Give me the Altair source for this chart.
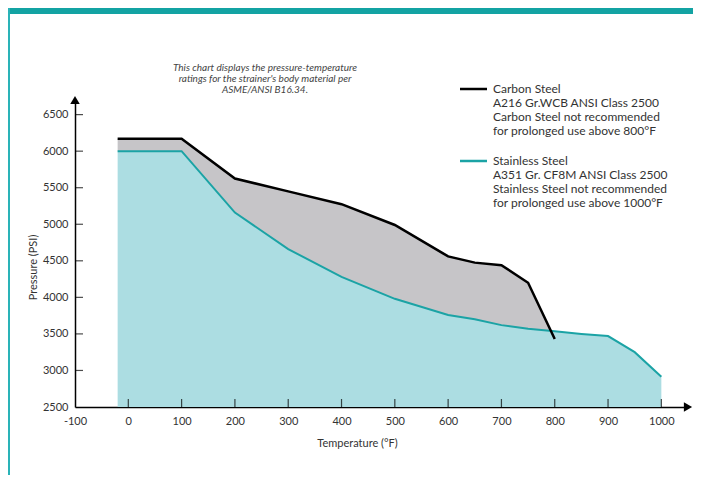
import altair as alt
import pandas as pd

# ---- data ----
temp_cs = [-20, 100, 200, 300, 400, 500, 600, 650, 700, 750, 800]
p_cs = [6170, 6170, 5625, 5450, 5275, 4990, 4560, 4475, 4440, 4200, 3430]
temp_ss = [-20, 100, 200, 300, 400, 500, 600, 650, 700, 750, 800, 850, 900, 950, 1000]
p_ss = [6000, 6000, 5160, 4660, 4280, 3980, 3760, 3700, 3620, 3570, 3535, 3500, 3470, 3250, 2915]
x_ticks = [-100, 0, 100, 200, 300, 400, 500, 600, 700, 800, 900, 1000]
y_ticks = [2500, 3000, 3500, 4000, 4500, 5000, 5500, 6000, 6500]

note_lines = ["This chart displays the pressure-temperature",
              "ratings for the strainer's body material per",
              "ASME/ANSI B16.34."]
cs_lines = ["Carbon Steel", "A216 Gr.WCB ANSI Class 2500",
            "Carbon Steel not recommended", "for prolonged use above 800°F"]
ss_lines = ["Stainless Steel", "A351 Gr. CF8M ANSI Class 2500",
            "Stainless Steel not recommended", "for prolonged use above 1000°F"]

X_DOM = [-100, 1050]
Y_DOM = [2500, 6700]
W, H = 613, 307
FONT = "Lato"
TEAL = "#1ba3a5"
TXT = "#333333"

ss_lookup = dict(zip(temp_ss, p_ss))
band = pd.DataFrame({"t": temp_cs, "upper": p_cs, "lower": [ss_lookup[t] for t in temp_cs]})
cs = pd.DataFrame({"t": temp_cs, "p": p_cs})
ss = pd.DataFrame({"t": temp_ss, "p": p_ss, "base": [y_ticks[0]] * len(temp_ss)})
xt = pd.DataFrame({"t": [v for v in x_ticks if v != X_DOM[0]]})
yt = pd.DataFrame({"p": [v for v in y_ticks if v != Y_DOM[0]]})
arrows = pd.DataFrame({"t": [X_DOM[1], X_DOM[0]], "p": [Y_DOM[0], Y_DOM[1]],
                       "shape": ["triangle-right", "triangle-up"]})

xs = alt.Scale(domain=X_DOM, nice=False, zero=False)
ys = alt.Scale(domain=Y_DOM, nice=False, zero=False)

xaxis = alt.Axis(values=x_ticks, title="Temperature (°F)", ticks=False, grid=False,
                 domainColor="black", domainWidth=1.5, labelPadding=8,
                 labelExpr="'' + datum.value", labelOverlap=False, labelFlush=False,
                 labelFont=FONT, labelFontSize=11, labelColor=TXT,
                 titleFont=FONT, titleFontSize=11, titleColor=TXT, titleFontWeight="normal",
                 titleX=282, titleY=30, titleAnchor="start", titleAlign="center")
yaxis = alt.Axis(values=y_ticks, title="Pressure (PSI)", ticks=False, grid=False,
                 domainColor="black", domainWidth=1.5, labelPadding=7,
                 labelExpr="'' + datum.value", labelOverlap=False, labelFlush=False,
                 labelFont=FONT, labelFontSize=11, labelColor=TXT,
                 titleFont=FONT, titleFontSize=11, titleColor=TXT, titleFontWeight="normal",
                 titleX=-37, titleY=167, titleAlign="center")


def X(field):
    return alt.X(field, type="quantitative", scale=xs, axis=xaxis)


def Y(field):
    return alt.Y(field, type="quantitative", scale=ys, axis=yaxis)


grey = alt.Chart(band).mark_area(color="#c6c5c8", opacity=1).encode(
    x=X("t"), y=Y("upper"), y2="lower:Q")
blue = alt.Chart(ss).mark_area(color="#acdde2", opacity=1).encode(
    x=X("t"), y=Y("p"), y2="base:Q")
teal_line = alt.Chart(ss).mark_line(color=TEAL, strokeWidth=2).encode(x=X("t"), y=Y("p"))
black_line = alt.Chart(cs).mark_line(color="black", strokeWidth=2.5).encode(x=X("t"), y=Y("p"))

xtick_marks = alt.Chart(xt).mark_tick(color="black", thickness=1.2, size=8,
                                      orient="vertical").encode(
    x=X("t"), y=alt.value(H - 4))
ytick_marks = alt.Chart(yt).mark_tick(color="black", thickness=1.2, size=8,
                                      orient="horizontal").encode(
    y=Y("p"), x=alt.value(4))

arrow_marks = alt.Chart(arrows).mark_point(filled=True, color="black", size=90, opacity=1).encode(
    x=X("t"), y=Y("p"), shape=alt.Shape("shape:N", scale=None))

one = pd.DataFrame({"a": [0]})
note = alt.Chart(one).mark_text(
    font=FONT, fontSize=10, fontStyle="italic", color="#444444", align="center",
    baseline="alphabetic", lineHeight=11).encode(
    x=alt.value(190), y=alt.value(-29), text=alt.value(note_lines))

cs_text = alt.Chart(one).mark_text(
    font=FONT, fontSize=12, color=TXT, align="left", baseline="alphabetic",
    lineHeight=14).encode(x=alt.value(418), y=alt.value(-7), text=alt.value(cs_lines))
ss_text = alt.Chart(one).mark_text(
    font=FONT, fontSize=12, color=TXT, align="left", baseline="alphabetic",
    lineHeight=14).encode(x=alt.value(418), y=alt.value(65), text=alt.value(ss_lines))

cs_key = alt.Chart(one).mark_rule(color="black", strokeWidth=2.5).encode(
    x=alt.value(385), x2=alt.value(412), y=alt.value(-11))
ss_key = alt.Chart(one).mark_rule(color=TEAL, strokeWidth=2.5).encode(
    x=alt.value(385), x2=alt.value(412), y=alt.value(61))

banner = alt.Chart(one).mark_rect(color="#13a3a3").encode(
    x=alt.value(-67), x2=alt.value(W + 5), y=alt.value(-92), y2=alt.value(-86))
border = alt.Chart(one).mark_rule(color="#2ab3b8", strokeWidth=2).encode(
    x=alt.value(-66), y=alt.value(-92), y2=alt.value(H + 70))

chart = alt.layer(
    grey, blue, teal_line, black_line, xtick_marks, ytick_marks, arrow_marks,
    note, cs_text, ss_text, cs_key, ss_key, banner, border
).properties(
    width=W, height=H,
    autosize=alt.AutoSizeParams(type="none"),
    padding={"left": 67, "top": 92, "right": 5, "bottom": 68},
    background="white",
).configure_view(stroke=None)

chart.save("out.html", embed_options={"renderer": "svg", "actions": False})
